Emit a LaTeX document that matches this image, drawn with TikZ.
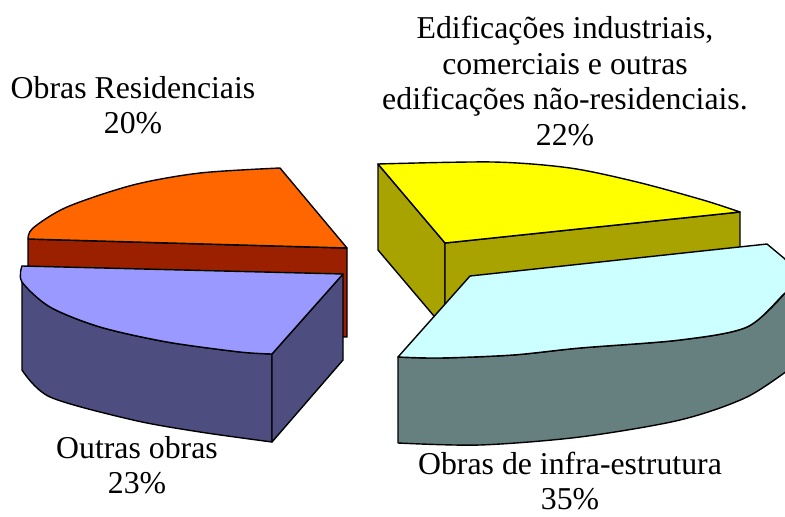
\documentclass[tikz,border=0pt]{standalone}
\usepackage{fontspec}
\setmainfont{Liberation Serif}
\definecolor{orangetop}{HTML}{FF6600}
\definecolor{redside}{HTML}{9A2000}
\definecolor{bluetop}{HTML}{9999FF}
\definecolor{blueside}{HTML}{4D4D80}
\definecolor{yellowtop}{HTML}{FFFF00}
\definecolor{yellowside}{HTML}{A9A300}
\definecolor{cyantop}{HTML}{CCFFFF}
\definecolor{cyanside}{HTML}{668080}
\begin{document}
\begin{tikzpicture}[x=1pt,y=-1pt,
  face/.style={draw=black,line width=1.4pt,line join=round},
  lbl/.style={inner sep=0pt,align=center,font=\fontsize{31.8}{35.5}\selectfont}]
\useasboundingbox (0,0) rectangle (785,517);
\clip (0,0) rectangle (785,517);
% ---- orange / red slice (Obras Residenciais)
\path[face,fill=redside] (28,239) -- (347,248) -- (347,337) -- (28,330) -- cycle;
\path[face,fill=orangetop] plot[smooth] coordinates {(28,239)(33,228)(67,207)(133,185)(200,173)(280,168)} -- (347,248) -- cycle;
% ---- blue slice (Outras obras)
\path[face,fill=blueside] (22,266) -- plot[smooth] coordinates {(22,370)(50,397)(133,420)(200,432)(272,442)} -- (272,354) -- plot[smooth] coordinates {(240,352)(167,342)(100,327)(50,307)(22,282)} -- cycle;
\path[face,fill=blueside] (272,354) -- (343,274) -- (343,360) -- (272,442) -- cycle;
\path[face,fill=bluetop] (343,274) -- plot[smooth] coordinates {(272,354)(240,352)(167,342)(100,327)(50,307)(22,282)(22,266)} -- cycle;
% ---- yellow slice (Edificacoes)
\path[face,fill=yellowside] (378,164) -- (378,250) -- (445,329) -- (445,243) -- cycle;
\path[face,fill=yellowside] (445,243) -- (740,212) -- (740,298) -- (445,329) -- cycle;
\path[face,fill=yellowtop] plot[smooth] coordinates {(378,164)(493,162)(570,168)(637,182)(703,200)(740,212)} -- (445,243) -- cycle;
% ---- cyan slice (infra-estrutura)
\path[face,fill=cyanside] (398,357) -- plot[smooth] coordinates {(398,443)(480,445)(580,437)(680,420)(747,397)(795,365)} -- (795,285) -- plot[smooth] coordinates {(785,293)(747,327)(680,340)(580,348)(513,355)(440,358)(398,357)} -- cycle;
\path[face,fill=cyantop] (398,357) -- (470,276) -- (767,244) -- (785,259) -- (795,275) -- plot[smooth] coordinates {(795,285)(785,293)(747,327)(680,340)(580,348)(513,355)(440,358)(398,357)} -- cycle;
% ---- labels
\node[lbl] (edif) at (565,81) {Edificações industriais,\\comerciais e outras\\edificações não-residenciais.\\22\%};
\node[lbl] (resid) at (133,105) {Obras Residenciais\\20\%};
\node[lbl] (outras) at (137,465) {Outras obras\\23\%};
\node[lbl] (infra) at (570,481) {Obras de infra-estrutura\\35\%};
\end{tikzpicture}
\end{document}
